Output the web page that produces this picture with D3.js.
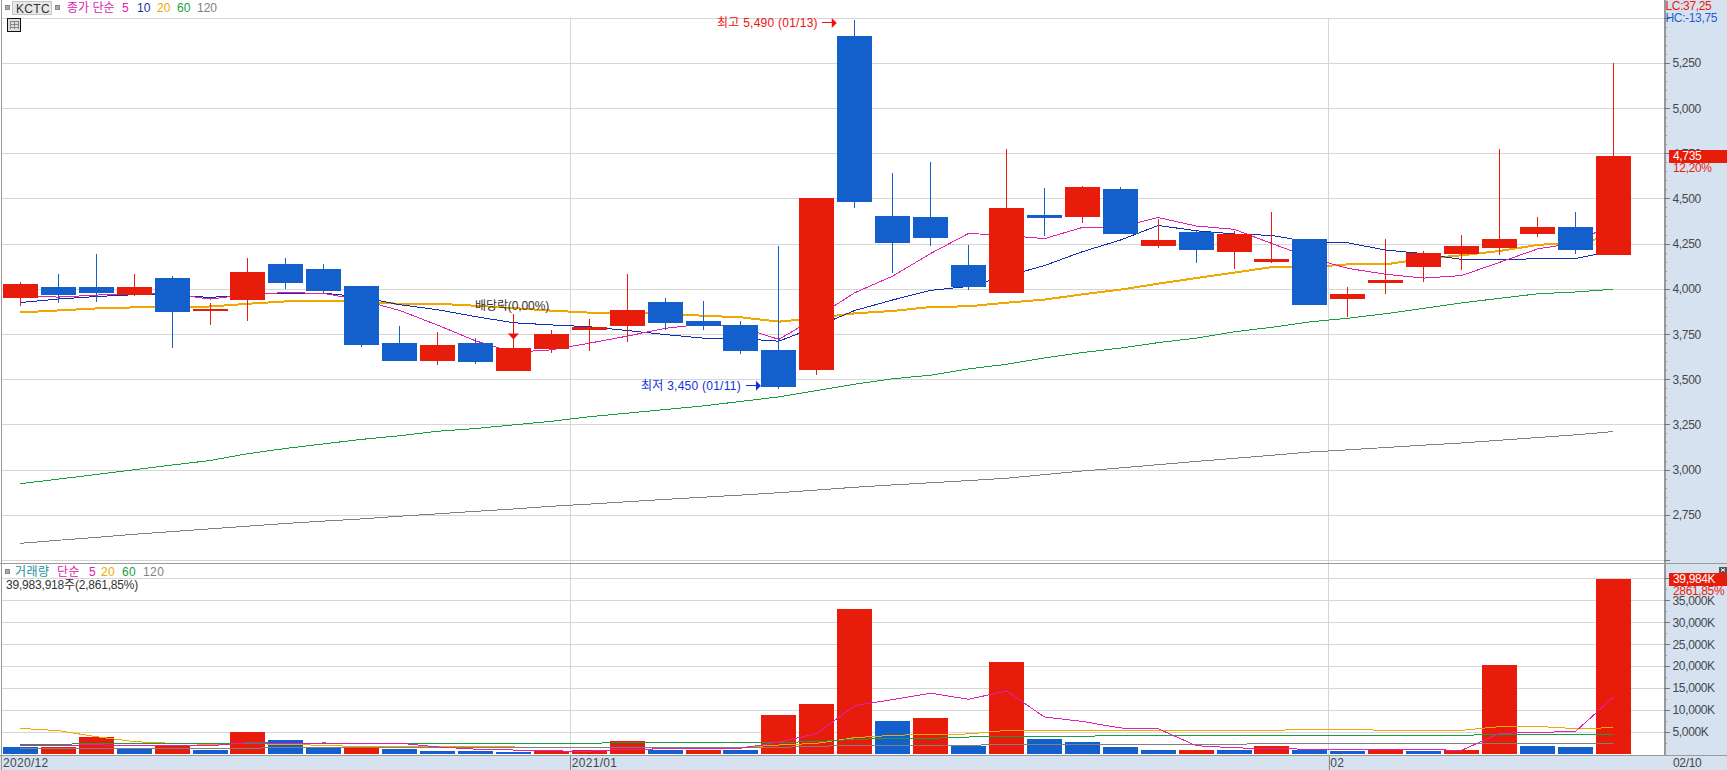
<!DOCTYPE html>
<html><head><meta charset="utf-8">
<script src="https://cdn.jsdelivr.net/npm/d3@7"></script>
<style>
html,body{margin:0;padding:0;background:#fff;overflow:hidden}
svg{display:block}
text{font-family:"Liberation Sans","Noto Sans CJK KR",sans-serif;font-size:12px}
</style></head><body><svg id="c" width="1727" height="770"></svg>
<script>
const dates=["12/09","12/10","12/11","12/14","12/15","12/16","12/17","12/18","12/21","12/22","12/23","12/24","12/28","12/29","12/30","01/04","01/05","01/06","01/07","01/08","01/11","01/12","01/13","01/14","01/15","01/18","01/19","01/20","01/21","01/22","01/25","01/26","01/27","01/28","01/29","02/01","02/02","02/03","02/04","02/05","02/08","02/09","02/10"];
const opens=[3950,4010,4010,3970,4065,3880,3940,4140,4115,4020,3705,3605,3705,3550,3670,3775,3795,3930,3825,3805,3665,3555,5400,4405,4400,4135,3980,4410,4400,4555,4240,4315,4205,4150,4280,3945,4035,4125,4195,4230,4305,4345,4190];
const closes=[4030,3970,3980,4015,3875,3890,4095,4035,3990,3690,3605,3690,3600,3675,3755,3790,3885,3815,3795,3660,3460,4505,4485,4255,4285,4015,4450,4395,4565,4305,4270,4215,4305,4170,3915,3975,4050,4200,4240,4280,4345,4220,4735];
const highs=[4040,4085,4195,4085,4075,3925,4175,4175,4140,4020,3795,3765,3730,3745,3775,3835,4085,3950,3935,3825,4240,4505,5490,4645,4705,4245,4775,4560,4570,4565,4390,4320,4325,4430,4280,4015,4280,4210,4300,4775,4400,4430,5250];
const lows=[3905,3925,3930,3965,3675,3800,3825,4000,3980,3680,3605,3580,3585,3550,3650,3660,3710,3775,3775,3640,3450,3525,4450,4090,4240,3995,3980,4295,4365,4305,4230,4145,4115,4145,3915,3845,3975,4040,4105,4190,4290,4195,4190];
const ma5=[3962,3957,3968,3979,3974,3946,3971,3982,3977,3940,3883,3802,3715,3652,3665,3702,3741,3784,3808,3789,3723,3847,3981,4073,4198,4309,4298,4280,4342,4346,4397,4350,4332,4253,4175,4116,4083,4062,4076,4149,4223,4257,4364];
const ma10=[3927,3946,3960,3970,3968,3955,3970,3979,3979,3957,3915,3887,3849,3815,3803,3793,3772,3750,3730,3727,3713,3794,3883,3941,3994,4016,4073,4131,4208,4272,4353,4324,4306,4298,4261,4257,4217,4197,4165,4162,4170,4170,4213];
const ma20=[3872,3883,3894,3900,3900,3905,3920,3933,3937,3929,3920,3920,3909,3896,3882,3871,3871,3864,3854,3845,3821,3841,3867,3880,3902,3906,3926,3943,3972,3998,4031,4062,4092,4123,4123,4138,4138,4169,4188,4212,4245,4260,4290];
const ma60=[2925,2950,2976,3002,3028,3053,3091,3120,3145,3170,3190,3215,3230,3250,3270,3295,3315,3335,3355,3380,3405,3440,3475,3505,3525,3560,3585,3620,3650,3675,3705,3730,3765,3790,3820,3840,3865,3895,3925,3950,3975,3985,4000];
const ma120=[2595,2612,2628,2645,2660,2675,2690,2705,2718,2730,2745,2758,2772,2785,2800,2812,2825,2838,2850,2862,2875,2890,2905,2918,2930,2942,2955,2975,2995,3012,3030,3048,3065,3082,3100,3112,3125,3138,3150,3165,3180,3195,3213];
const volumes=[1600,1520,3880,1140,1980,910,5020,3200,1450,1600,1140,680,680,460,600,910,2970,990,990,910,8900,11415,33100,7530,8220,1900,21000,3425,2740,1600,910,910,910,1830,910,680,990,680,910,20320,1900,1700,39984];
const volUp=[0,1,1,0,1,0,1,0,0,1,0,0,0,0,1,1,1,0,1,0,1,1,1,0,1,0,1,0,0,0,0,1,0,1,0,0,1,0,1,1,0,0,1];
const vma5=[1900,2000,2100,1900,2024,1886,2586,2450,2512,2436,2482,1614,1110,912,698,652,1110,1154,1242,1328,2714,4636,11056,12426,13890,12490,14394,8454,7444,5940,5780,1904,1406,1232,1094,1048,1064,1018,834,4716,4960,5102,12963];
const vma20=[5860,5330,3960,2820,2435,2200,2360,2200,1980,1670,1670,1670,1670,1600,1520,1520,1520,1520,1520,1520,2050,2435,3730,4260,4490,4570,5400,5400,5400,5400,5400,5400,5400,5400,5630,5630,5400,5400,5400,6250,6300,5800,6000];
const vma60=[2200,2200,2435,2435,2435,2435,2435,2435,2435,2435,2435,2435,2435,2435,2435,2435,2660,2660,2660,2660,2660,2815,3350,3580,3580,3880,4030,4030,4030,4260,4260,4260,4260,4260,4260,4260,4260,4260,4260,4490,4490,4490,4490];
const vma120=[1290,1290,1290,1290,1290,1290,1290,1520,1520,1520,1520,1520,1520,1520,1520,1520,1520,1520,1520,1520,1520,1750,1980,1980,1980,1980,2200,2200,2200,2200,2200,2200,2200,2435,2435,2435,2435,2435,2435,2435,2435,2435,2435];
const priceTicks=[5250,5000,4750,4500,4250,4000,3750,3500,3250,3000,2750];
const priceGrid=[5500,5250,5000,4750,4500,4250,4000,3750,3500,3250,3000,2750,2500];
const volTicks=[5000,10000,15000,20000,25000,30000,35000];
const volGrid=[5000,10000,15000,20000,25000,30000,35000,40000];
const monthStarts=["01/04","02/01"];
const monthLabels=["2021/01","02"];
const legendPrice=[["종가 단순","#e020b0",67],["5","#e020b0",122],["10","#1030b0",137],["20","#f0a800",157],["60","#18a040",177],["120","#808080",197]];
const legendVol=[["거래량","#20909a",15],["단순","#e020b0",57],["5","#e020b0",89],["20","#f0a800",101],["60","#18a040",122],["120","#808080",143]];

const RED="#e81c0a",BLUE="#135fcc",GRID="#d6d6d6",AX="#999",BAND="#d6e2f0",TXT="#44484c";
const svg=d3.select("#c");
const x=d3.scalePoint().domain(dates).range([20.4,1613.3]);
const y=d3.scaleLinear().domain([5250,2750]).range([63.3,515.3]);
const yv=d3.scaleLinear().domain([0,35000]).range([754,600.7]);
const W=35,R=1664;
const xAt=i=>x(dates[i]);
const grp=svg.append("g");

// right and bottom bands
grp.append("rect").attr("x",R).attr("y",0).attr("width",1727-R).attr("height",770).attr("fill",BAND);
grp.append("rect").attr("x",0).attr("y",755.5).attr("width",1727).attr("height",14.5).attr("fill",BAND);

// grid
const crisp=s=>s.attr("shape-rendering","crispEdges");
crisp(grp.selectAll(".g1").data(priceGrid).join("line").attr("x1",2).attr("x2",R).attr("y1",d=>y(d)).attr("y2",d=>y(d)).attr("stroke",GRID).attr("stroke-width",1));
crisp(grp.selectAll(".g2").data(volGrid).join("line").attr("x1",2).attr("x2",R).attr("y1",d=>yv(d)).attr("y2",d=>yv(d)).attr("stroke",GRID));
crisp(grp.selectAll(".g3").data(monthStarts).join("line").attr("x1",d=>x(d)-18.9).attr("x2",d=>x(d)-18.9).attr("y1",18).attr("y2",770).attr("stroke",GRID));
crisp(grp.append("line").attr("x1",570.5).attr("x2",570.5).attr("y1",755).attr("y2",770).attr("stroke","#888"));
crisp(grp.append("line").attr("x1",1329.5).attr("x2",1329.5).attr("y1",755).attr("y2",770).attr("stroke","#888"));

// frame lines
crisp(grp.append("line").attr("x1",1.5).attr("x2",1.5).attr("y1",0).attr("y2",770).attr("stroke",AX));
crisp(grp.append("line").attr("x1",R+.5).attr("x2",R+.5).attr("y1",0).attr("y2",755).attr("stroke",AX).attr("stroke-width",2));
crisp(grp.append("line").attr("x1",0).attr("x2",1727).attr("y1",563.5).attr("y2",563.5).attr("stroke",AX));
crisp(grp.append("line").attr("x1",0).attr("x2",1727).attr("y1",755.5).attr("y2",755.5).attr("stroke",AX));

// minor ticks
const pMinor=d3.range(2500,5501,50);
crisp(grp.selectAll(".t1").data(pMinor).join("line").attr("x1",R).attr("x2",d=>R+(d%250===0?6:3)).attr("y1",d=>y(d)).attr("y2",d=>y(d)).attr("stroke",d=>d%250===0?"#777":AX));
const vMinor=d3.range(2500,40001,2500);
crisp(grp.selectAll(".t2").data(vMinor).join("line").attr("x1",R).attr("x2",d=>R+(d%5000===0?6:3)).attr("y1",d=>yv(d)).attr("y2",d=>yv(d)).attr("stroke",d=>d%5000===0?"#777":AX));

// price moving averages (under candles)
const line=(sc,arr)=>d3.line().x((d,i)=>xAt(i)).y(d=>sc(d))(arr);
const drawLine=(sc,arr,col,w)=>crisp(grp.append("path").attr("d",line(sc,arr)).attr("fill","none").attr("stroke",col).attr("stroke-width",w));
drawLine(y,ma120,"#808080",1);
drawLine(y,ma60,"#18a040",1);
drawLine(y,ma20,"#f0a800",2);
drawLine(y,ma10,"#1030b0",1);
drawLine(y,ma5,"#e020b0",1);

// candles
const idx=d3.range(dates.length);
const col=i=>closes[i]>=opens[i]?RED:BLUE;
crisp(grp.selectAll(".wick").data(idx).join("line").attr("x1",i=>xAt(i)).attr("x2",i=>xAt(i)).attr("y1",i=>y(highs[i])).attr("y2",i=>y(lows[i])).attr("stroke",col).attr("stroke-width",1));
crisp(grp.selectAll(".body").data(idx).join("rect").attr("x",i=>xAt(i)-W/2).attr("width",W)
 .attr("y",i=>y(Math.max(opens[i],closes[i]))).attr("height",i=>Math.abs(y(opens[i])-y(closes[i]))).attr("fill",col));

// volume bars and averages
crisp(grp.selectAll(".vb").data(idx).join("rect").attr("x",i=>xAt(i)-W/2).attr("width",W)
 .attr("y",i=>yv(volumes[i])).attr("height",i=>yv(0)-yv(volumes[i])).attr("fill",i=>volUp[i]?RED:BLUE));
drawLine(yv,vma20,"#f0a800",1);
drawLine(yv,vma60,"#18a040",1);
drawLine(yv,vma120,"#808080",1);
drawLine(yv,vma5,"#e020b0",1);

// axis labels
const txt=(t,px,py,c,ls)=>grp.append("text").attr("x",px).attr("y",py).attr("fill",c).attr("letter-spacing",ls==null?-0.35:ls).text(t);
const fmt=d3.format(",");
priceTicks.forEach(d=>txt(fmt(d),1672.5,y(d)+4,TXT));
volGrid.forEach(d=>txt(fmt(d)+"K",1672.5,yv(d)+4,TXT));
txt("2020/12",3,767,TXT,0.3);
monthLabels.forEach((l,k)=>txt(l,x(monthStarts[k])-17.5,767,TXT,0.3));
txt("02/10",1673,767,TXT);
txt("LC:37,25",1665.5,10,RED);
txt("HC:-13,75",1665.5,22,"#1e5fd0");

// value tags
const tag=(val,sub,py)=>{
 crisp(grp.append("rect").attr("x",1669).attr("y",py-6.5).attr("width",58).attr("height",13).attr("fill",RED));
 txt(val,1673,py+4,"#fff");
 txt(sub,1673,py+15.5,RED);
};
tag("4,735","12,20%",y(4735));
tag("39,984K","2861,85%",yv(39984)+.5);
crisp(grp.append("rect").attr("x",1719).attr("y",567).attr("width",8).attr("height",6).attr("fill","#555"));
grp.append("path").attr("d","M1721 568.5L1725 571.5M1725 568.5L1721 571.5").attr("stroke","#fff").attr("stroke-width",1);

// header rows
legendPrice.forEach(l=>txt(l[0],l[2],12,l[1],0));
legendVol.forEach(l=>txt(l[0],l[2],576,l[1],0.4));
crisp(grp.append("rect").attr("x",12.5).attr("y",1.5).attr("width",39).attr("height",13).attr("fill","#e8e8e8").attr("stroke","#c4c4c4"));
txt("KCTC",16,12.5,"#333",0.3);
const sq=(px,py)=>crisp(grp.append("rect").attr("x",px+.5).attr("y",py+.5).attr("width",4).attr("height",4).attr("fill","#aaa").attr("stroke","#888"));
sq(5,5);sq(55,5);sq(5,569);
txt("39,983,918주(2,861,85%)",6,589,"#333",-0.2);
// table icon
crisp(grp.append("rect").attr("x",7.5).attr("y",18.5).attr("width",13).attr("height",13).attr("fill","#ddd").attr("stroke","#111"));
crisp(grp.append("path").attr("d","M10 21H18M10 24H18M10 27H18M10 21V29M14 21V29M18 21V29").attr("fill","none").attr("stroke","#888"));

// annotations
const hi=dates.indexOf("01/13"),lo=dates.indexOf("01/11"),dv=dates.indexOf("12/29");
const hy=y(5490)+3, ly=y(3450)-3;
txt("최고 5,490 (01/13)",717,hy+4,"#f01010",0.25);
const hx=xAt(hi)-18;
crisp(grp.append("line").attr("x1",hx-15).attr("x2",hx-4).attr("y1",hy).attr("y2",hy).attr("stroke","#f01010"));
grp.append("path").attr("d",`M${hx-5} ${hy-5}L${hx} ${hy}L${hx-5} ${hy+5}Z`).attr("fill","#f01010");
txt("최저 3,450 (01/11)",641,ly+4,"#1030e0",0.25);
const lx=xAt(lo)-18;
crisp(grp.append("line").attr("x1",lx-15).attr("x2",lx-4).attr("y1",ly).attr("y2",ly).attr("stroke","#1030e0"));
grp.append("path").attr("d",`M${lx-5} ${ly-5}L${lx} ${ly}L${lx-5} ${ly+5}Z`).attr("fill","#1030e0");
const dx=xAt(dv), dy=y(closes[dv]);
txt("배당락(0,00%)",475,310,"#333",-0.1);
crisp(grp.append("line").attr("x1",dx).attr("x2",dx).attr("y1",dy-34).attr("y2",dy-8).attr("stroke","#f01010"));
grp.append("path").attr("d",`M${dx-5.5} ${dy-14.5}H${dx+5.5}L${dx} ${dy-8.5}Z`).attr("fill","#f01010");
</script></body></html>
